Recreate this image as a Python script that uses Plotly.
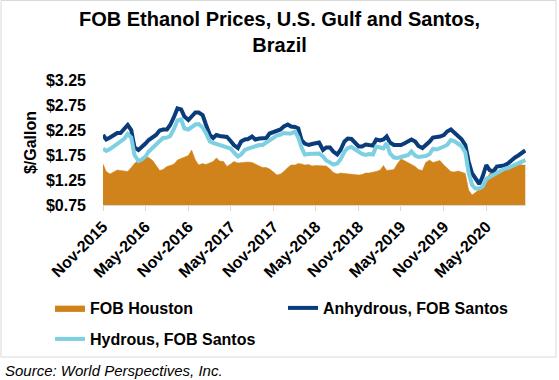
import pandas as pd
import plotly.graph_objects as go

dates = pd.date_range("2015-11-01", periods=120, freq="SMS")

houston = [1.57, 1.42, 1.37, 1.40, 1.45, 1.44, 1.43, 1.42, 1.50, 1.58, 1.65, 1.67, 1.73, 1.70, 1.64, 1.55, 1.44, 1.46, 1.52, 1.54,
           1.57, 1.65, 1.68, 1.71, 1.74, 1.85, 1.65, 1.55, 1.58, 1.56,
           1.59, 1.62, 1.69, 1.63, 1.62, 1.52, 1.57, 1.62, 1.59, 1.60, 1.60, 1.61, 1.60, 1.57, 1.53, 1.50, 1.50, 1.47, 1.41, 1.35,
           1.37, 1.42, 1.50, 1.55, 1.55, 1.58, 1.57, 1.55, 1.56,
           1.53, 1.54, 1.54, 1.53, 1.53, 1.47, 1.40, 1.37, 1.39, 1.38, 1.37, 1.37, 1.36, 1.35, 1.36, 1.39, 1.39, 1.40, 1.42, 1.45,
           1.54, 1.44, 1.45, 1.46, 1.57, 1.67, 1.64, 1.60, 1.57, 1.52,
           1.46, 1.44, 1.60, 1.65, 1.60, 1.62, 1.64, 1.55, 1.49, 1.42, 1.41, 1.43, 1.41, 1.38, 1.05, 0.95, 1.00, 1.06, 1.13, 1.27,
           1.38, 1.50, 1.40, 1.42, 1.45, 1.49, 1.52, 1.55, 1.58, 1.55, 1.55]

anhydrous = [2.15, 2.06, 2.10, 2.15, 2.19, 2.19, 2.28, 2.35, 2.25, 1.90, 1.85, 1.90, 1.98, 2.05, 2.10, 2.15, 2.24, 2.26, 2.26, 2.35,
             2.52, 2.68, 2.66, 2.52, 2.45, 2.52, 2.60, 2.60, 2.55, 2.36,
             2.15, 2.09, 2.15, 2.13, 2.12, 2.11, 2.03, 1.95, 1.89, 2.02, 2.06, 2.07, 2.12, 2.06, 2.08, 2.09, 2.09, 2.18, 2.21, 2.24,
             2.26, 2.32, 2.36, 2.32, 2.31, 2.28, 2.05, 1.98, 1.95,
             1.97, 1.99, 2.00, 1.85, 1.90, 1.90, 1.82, 1.76, 1.85, 2.02, 2.08, 2.07, 2.00, 1.92, 1.92, 1.96, 1.95, 1.94, 2.06, 2.04,
             2.06, 2.12, 2.00, 1.95, 1.95, 1.95, 1.98, 2.02, 2.06, 2.02,
             1.93, 1.89, 1.94, 2.02, 2.10, 2.11, 2.12, 2.15, 2.22, 2.26, 2.20, 2.14, 2.07, 1.95, 1.62, 1.38, 1.29, 1.17, 1.32, 1.55,
             1.45, 1.42, 1.52, 1.52, 1.54, 1.58, 1.64, 1.70, 1.74, 1.80, 1.84]

hydrous = [1.88, 1.83, 1.87, 1.92, 1.96, 2.01, 2.08, 2.17, 2.10, 1.75, 1.63, 1.66, 1.72, 1.82, 1.89, 1.95, 2.02, 2.09, 2.10, 2.13,
           2.28, 2.44, 2.46, 2.28, 2.26, 2.30, 2.36, 2.37, 2.30, 2.19,
           2.02, 1.99, 1.97, 1.95, 1.93, 1.91, 1.88, 1.80, 1.72, 1.76, 1.85, 1.88, 1.91, 1.94, 1.95, 1.95, 2.00, 2.06, 2.11, 2.14,
           2.16, 2.19, 2.18, 2.18, 2.22, 2.10, 1.90, 1.76, 1.77,
           1.77, 1.79, 1.78, 1.72, 1.64, 1.60, 1.56, 1.58, 1.66, 1.82, 1.89, 1.91, 1.87, 1.82, 1.77, 1.75, 1.77, 1.76, 1.92, 1.90,
           1.88, 1.99, 1.78, 1.70, 1.69, 1.71, 1.73, 1.75, 1.82, 1.74,
           1.71, 1.71, 1.73, 1.77, 1.87, 1.86, 1.88, 1.92, 1.95, 2.05, 2.03, 1.98, 1.93, 1.80, 1.40, 1.15, 1.08, 1.08, 1.12, 1.27,
           1.31, 1.34, 1.38, 1.43, 1.47, 1.49, 1.52, 1.57, 1.60, 1.62, 1.65]

tick_dates = pd.date_range("2015-11-01", "2020-05-01", freq="6MS")
tick_labels = [d.strftime("%b-%Y") for d in tick_dates]
y_ticks = [0.75, 1.25, 1.75, 2.25, 2.75, 3.25]

FONT = "Liberation Sans, Arial, sans-serif"
ORANGE = "#D1831B"
NAVY = "#0A3C7C"
LIGHT = "#7DCFE2"

fig = go.Figure()
fig.add_trace(go.Scatter(x=dates, y=houston, name="FOB Houston", mode="lines",
                         fill="tozeroy", fillcolor=ORANGE, line=dict(color=ORANGE, width=0.5),
                         legend="legend", showlegend=True))
fig.add_trace(go.Scatter(x=dates, y=anhydrous, name="Anhydrous, FOB Santos", mode="lines",
                         line=dict(color=NAVY, width=4), legend="legend3", showlegend=True))
fig.add_trace(go.Scatter(x=dates, y=hydrous, name="Hydrous, FOB Santos", mode="lines",
                         line=dict(color=LIGHT, width=4), legend="legend2", showlegend=True))

L, R, T, B = 103, 33, 80, 175
W, H = 559, 380
pw, ph = W - L - R, H - T - B

def px_x(p):
    return (p - L) / pw

def px_y(p):
    return (H - B - p) / ph

legend_font = dict(size=16, weight="bold", family=FONT)

fig.update_layout(
    width=W, height=H,
    showlegend=True,
    margin=dict(l=L, r=R, t=T, b=B),
    paper_bgcolor="white", plot_bgcolor="white",
    font=dict(family=FONT, color="black"),
    xaxis=dict(type="date", range=["2015-11-01", "2020-10-18"],
               tickvals=list(tick_dates), ticktext=tick_labels, tickangle=-45,
               tickfont=dict(size=16, weight="bold", family=FONT),
               showgrid=False, showline=True, linecolor="#D9D9D9", linewidth=1,
               ticks="outside", ticklen=5, tickcolor="#D9D9D9", zeroline=False),
    yaxis=dict(range=[0.75, 3.25], tickvals=y_ticks, tickformat="$.2f",
               tickfont=dict(size=16, weight="bold", family=FONT),
               showgrid=False, showline=False, zeroline=False, ticks="",
               ticklabelstandoff=16,
               title=dict(text="$/Gallon", font=dict(size=16, weight="bold", family=FONT), standoff=5)),
    legend=dict(orientation="h", x=px_x(50), y=px_y(308), xanchor="left", yanchor="middle",
                font=legend_font, bgcolor="rgba(0,0,0,0)"),
    legend3=dict(orientation="h", x=px_x(283), y=px_y(308), xanchor="left", yanchor="middle",
                 font=legend_font, bgcolor="rgba(0,0,0,0)"),
    legend2=dict(orientation="h", x=px_x(50), y=px_y(339), xanchor="left", yanchor="middle",
                 font=legend_font, bgcolor="rgba(0,0,0,0)"),
    shapes=[dict(type="rect", xref="paper", yref="paper",
                 x0=px_x(1), x1=px_x(556), y0=px_y(357), y1=px_y(0.5),
                 line=dict(color="#D9D9D9", width=1), fillcolor="rgba(0,0,0,0)", layer="below")],
    annotations=[
        dict(text="FOB Ethanol Prices, U.S. Gulf and Santos,<br>Brazil", xref="paper", yref="paper",
             x=px_x(279.5), y=px_y(6), xanchor="center", yanchor="top", showarrow=False,
             font=dict(size=20, weight="bold", family=FONT, color="black")),
        dict(text="<i>Source: World Perspectives, Inc.</i>", xref="paper", yref="paper",
             x=px_x(3), y=px_y(370), xanchor="left", yanchor="middle", showarrow=False,
             font=dict(size=15, family=FONT, color="black")),
    ],
)

fig.write_html("out.html", config={"displayModeBar": False},
               post_script="document.body.style.margin='0px';")
